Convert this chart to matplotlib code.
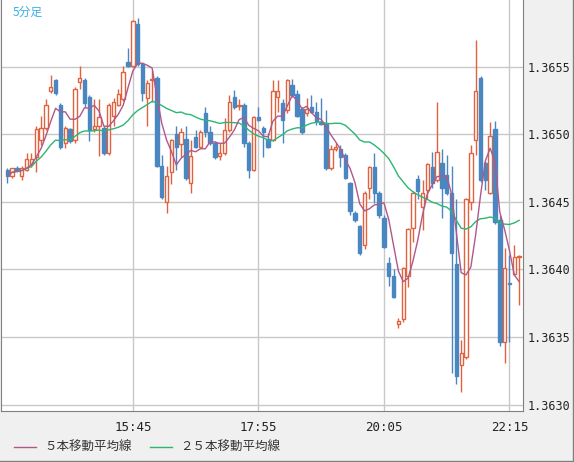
import matplotlib
matplotlib.use("Agg")
import matplotlib.pyplot as plt
from matplotlib.lines import Line2D
from matplotlib.patches import Rectangle
import numpy as np
import pandas as pd

# OHLC in units of 1e-5 above 1.36000
opens = [474,469,475,469,474,478,483,496,505,532,540,522,494,504,496,539,540,528,504,506,505,486,514,522,526,554,551,582,552,527,540,542,477,450,472,500,493,497,464,498,491,516,502,494,484,486,503,528,521,522,494,474,513,505,497,496,528,523,518,537,530,519,516,520,517,509,508,475,489,489,485,464,442,432,418,460,476,457,438,405,395,360,363,395,431,467,446,459,476,466,479,470,457,404,329,335,450,496,542,479,457,504,437,346,390,397,409]
highs = [475,475,477,477,486,486,506,514,526,544,541,523,506,505,535,551,542,529,526,526,506,523,527,534,551,564,585,586,553,540,548,543,485,477,497,506,505,506,496,503,503,520,506,495,494,512,529,533,526,523,495,514,520,506,501,540,540,526,541,541,533,520,527,529,524,527,518,492,494,492,486,465,443,433,458,477,486,458,440,409,400,364,402,431,458,470,466,479,487,524,489,485,477,452,348,453,492,570,543,480,509,510,440,416,411,418,411]
lows = [464,468,472,466,473,476,472,492,503,531,529,489,490,494,494,534,520,495,502,484,485,485,506,521,525,550,550,551,525,506,524,476,452,442,463,474,483,466,457,490,490,498,492,482,481,485,502,519,518,491,468,473,510,483,490,495,517,494,516,528,513,500,514,516,507,507,474,474,488,476,467,440,435,411,415,452,449,438,416,388,379,357,361,387,420,452,429,452,460,465,438,455,323,315,309,334,444,485,465,459,456,434,343,331,346,396,374]
closes = [469,475,474,475,482,482,504,505,522,535,531,491,505,495,534,542,523,503,506,513,486,522,524,530,546,551,584,552,531,538,541,477,454,469,496,491,502,468,484,491,502,502,494,483,486,503,524,520,522,494,474,513,511,502,491,532,532,511,540,529,514,502,519,517,510,508,475,489,491,483,468,443,437,412,457,476,457,440,417,395,380,362,401,430,457,458,457,478,464,487,460,457,412,321,338,452,486,532,466,466,499,435,346,401,389,409,410]

tick_pos = [26, 52, 78, 104]
tick_labels = ["15:45", "17:55", "20:05", "22:15"]
price_ticks = [1.3630, 1.3635, 1.3640, 1.3645, 1.3650, 1.3655]

o = 1.36 + np.array(opens) / 1e5
h = 1.36 + np.array(highs) / 1e5
l = 1.36 + np.array(lows) / 1e5
c = 1.36 + np.array(closes) / 1e5
ma5 = pd.Series(c).rolling(5, min_periods=1).mean()
ma25 = pd.Series(c).rolling(25, min_periods=1).mean()

UP = "#e0623f"; DN = "#4a87c0"
W, H = 574, 462
fig = plt.figure(figsize=(W/100, H/100), dpi=100, facecolor="#f0f0f0")
ax = fig.add_axes([1/W, (H-411)/H, 522/W, 411/H])
ax.set_facecolor("white")
ax.set_xlim(-1.3, 106.8)
ax.set_ylim(1.362952, 1.365996)
for p in price_ticks:
    ax.axhline(p, color="#c8c8c8", lw=1, zorder=0)
for t in tick_pos:
    ax.axvline(t, color="#c8c8c8", lw=1, zorder=0)

bw = 0.7
for i in range(len(c)):
    up = c[i] >= o[i]
    col = UP if up else DN
    ax.vlines(i, l[i], h[i], color=col, lw=1, zorder=2)
    lo, hi = min(o[i], c[i]), max(o[i], c[i])
    ax.add_patch(Rectangle((i - bw/2, lo), bw, max(hi - lo, 0.000008),
                           facecolor="white" if up else DN, edgecolor=col,
                           lw=1, zorder=3))
ax.plot(range(len(c)), ma25, color="#2bb673", lw=1, zorder=4)
ax.plot(range(len(c)), ma5, color="#b0588a", lw=1, zorder=4)

ax.yaxis.tick_right()
ax.set_yticks(price_ticks)
ax.set_yticklabels([f"{p:.4f}" for p in price_ticks], family="DejaVu Sans Mono", fontsize=8.5, color="#222222")
ax.set_xticks(tick_pos)
ax.set_xticklabels(tick_labels, family="DejaVu Sans Mono", fontsize=9, color="#222222")
ax.tick_params(axis="y", length=0, pad=3)
ax.tick_params(axis="x", length=0, pad=7)
ax.spines["top"].set_visible(False)
for s in ["left", "right", "bottom"]:
    ax.spines[s].set_color("#808080")

ax.text(12/522, 1 - 12/411, "5分足", transform=ax.transAxes, color="#3ab0e8",
        fontsize=8.5, family=["Noto Sans CJK JP", "DejaVu Sans"], va="center")

fig.add_artist(Line2D([14/W, 36/W], [1-447/H]*2, color="#b0588a", lw=1))
fig.text(44/W, 1-447/H, "５本移動平均線", fontsize=9, family=["Noto Sans CJK JP"], va="center", color="#333333")
fig.add_artist(Line2D([150/W, 172/W], [1-447/H]*2, color="#2bb673", lw=1))
fig.text(180/W, 1-447/H, "２５本移動平均線", fontsize=9, family=["Noto Sans CJK JP"], va="center", color="#333333")
fig.add_artist(Line2D([1-1.5/W, 1-1.5/W], [0, 1], color="#808080", lw=1))
fig.add_artist(Line2D([0, 1], [1/H, 1/H], color="#808080", lw=1))

fig.savefig("out.png", dpi=100, facecolor=fig.get_facecolor())
